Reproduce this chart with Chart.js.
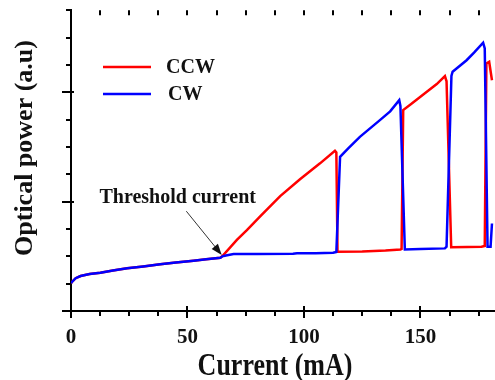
<!DOCTYPE html>
<html>
<head>
<meta charset="utf-8">
<script src="https://cdn.jsdelivr.net/npm/chart.js@4"></script>
<style>
	html, body { margin: 0; padding: 0; background: #fff; }
	#wrap { width: 495px; height: 380px; }
</style>
</head>
<body>
<div id="wrap"><canvas id="powerChart"></canvas></div>
<script>
	// Below threshold both directions share the same curve.
	var commonCurrent = [0, 0.5, 2, 4.1, 8, 12.6, 18, 24.1, 31, 38.3, 45, 52.6, 58, 64.1];
	var commonPower = [1.02, 1.07, 1.2, 1.28, 1.35, 1.40, 1.48, 1.56, 1.63, 1.71, 1.77, 1.84, 1.89, 1.95];

	// Counter-clockwise (red) above threshold.
	var ccwCurrent = [65.0, 71.2, 75.5, 81.3, 89.8, 98.3, 106.9, 113.3, 113.9, 114.4, 125, 135, 141.4, 141.9, 142.6, 146, 152.6, 157, 160.5, 161.2, 163.2, 170, 176.2, 177.6, 178.3, 179.5, 180.7];
	var ccwPower = [2.01, 2.60, 2.96, 3.47, 4.20, 4.82, 5.40, 5.86, 5.80, 2.17, 2.18, 2.21, 2.25, 2.27, 7.35, 7.57, 8.01, 8.30, 8.59, 8.40, 2.33, 2.34, 2.35, 2.38, 9.05, 9.11, 8.44];

	// Clockwise (blue) above threshold.
	var cwCurrent = [65.0, 66.5, 69.8, 80, 95.3, 97, 105, 112.5, 113.9, 115.5, 119, 124, 132.6, 137, 140.9, 141.4, 143.3, 150, 160.5, 161.2, 163.3, 163.8, 169.8, 173, 176.9, 177.6, 178.8, 180.1, 180.7];
	var cwPower = [2.00, 2.03, 2.08, 2.08, 2.09, 2.11, 2.11, 2.13, 2.16, 5.64, 5.95, 6.37, 6.98, 7.30, 7.71, 7.50, 2.25, 2.27, 2.29, 2.35, 8.60, 8.75, 9.17, 9.45, 9.81, 9.60, 2.35, 2.35, 3.20];

	var xMajor = [0, 50, 100, 150];

	var serif = "'Liberation Serif', 'Times New Roman', serif";

	function toPoints(xs, ys) {
		var out = [];
		for (var i = 0; i < xs.length; i++) {
			out.push({ x: xs[i], y: ys[i] });
		}
		return out;
	}

	// Ticks (major ones cross the axis), legend, arrow and axis titles.
	var decorPlugin = {
		id: 'decor',
		afterDraw: function(chart) {
			var ctx = chart.ctx;
			var area = chart.chartArea;
			var xs = chart.scales.x;
			var ys = chart.scales.y;
			ctx.save();
			ctx.strokeStyle = '#000';
			ctx.lineWidth = 2;

			xs.ticks.forEach(function(t) {
				var px = Math.round(xs.getPixelForValue(t.value));
				var major = xMajor.indexOf(t.value) >= 0;
				ctx.beginPath();
				ctx.moveTo(px, major ? area.bottom - 5 : area.bottom);
				ctx.lineTo(px, area.bottom + (major ? 7 : 5));
				ctx.stroke();
				ctx.beginPath();
				ctx.moveTo(px, area.top);
				ctx.lineTo(px, area.top + 5);
				ctx.stroke();
			});
			ys.ticks.forEach(function(t) {
				var py = Math.round(ys.getPixelForValue(t.value));
				var major = t.value % 4 === 0;
				ctx.beginPath();
				ctx.moveTo(area.left - (major ? 9 : 5), py);
				ctx.lineTo(area.left + (major ? 3 : 0), py);
				ctx.stroke();
			});

			// legend
			var ds = chart.data.datasets;
			var rows = [{ d: ds[1], y: 67, tx: 166 }, { d: ds[0], y: 94, tx: 168 }];
			ctx.font = 'bold 20px ' + serif;
			ctx.textBaseline = 'middle';
			ctx.textAlign = 'left';
			rows.forEach(function(r) {
				ctx.strokeStyle = r.d.borderColor;
				ctx.lineWidth = 2.5;
				ctx.beginPath();
				ctx.moveTo(103, r.y);
				ctx.lineTo(151, r.y);
				ctx.stroke();
				ctx.fillStyle = '#111';
				ctx.fillText(r.d.label, r.tx, r.y + 1);
			});

			// threshold annotation
			var ax0 = xs.getPixelForValue(49.5), ay0 = ys.getPixelForValue(3.65);
			var ax1 = xs.getPixelForValue(64.7), ay1 = ys.getPixelForValue(2.05);
			var ang = Math.atan2(ay1 - ay0, ax1 - ax0);
			ctx.strokeStyle = '#333';
			ctx.fillStyle = '#111';
			ctx.lineWidth = 1;
			ctx.beginPath();
			ctx.moveTo(ax0, ay0);
			ctx.lineTo(ax1 - 8 * Math.cos(ang), ay1 - 8 * Math.sin(ang));
			ctx.stroke();
			ctx.beginPath();
			ctx.moveTo(ax1, ay1);
			ctx.lineTo(ax1 - 11 * Math.cos(ang) + 4 * Math.sin(ang), ay1 - 11 * Math.sin(ang) - 4 * Math.cos(ang));
			ctx.lineTo(ax1 - 11 * Math.cos(ang) - 4 * Math.sin(ang), ay1 - 11 * Math.sin(ang) + 4 * Math.cos(ang));
			ctx.closePath();
			ctx.fill();

			ctx.textAlign = 'center';
			ctx.fillText('Threshold current', xs.getPixelForValue(45.8), ys.getPixelForValue(4.15));

			// axis titles (the source image is a little stretched vertically)
			ctx.font = 'bold 26px ' + serif;
			ctx.save();
			ctx.textBaseline = 'alphabetic';
			ctx.translate(275, 375);
			ctx.scale(1, 1.2);
			ctx.fillText('Current (mA)', 0, 0);
			ctx.restore();
			ctx.translate(25, 148);
			ctx.rotate(-Math.PI / 2);
			ctx.fillText('Optical power (a.u)', 0, 0);
			ctx.restore();
		}
	};

	var powerChart = new Chart(document.getElementById('powerChart'), {
		type: 'line',
		data: {
			datasets: [{
				label: 'CW',
				data: toPoints(commonCurrent.concat(cwCurrent), commonPower.concat(cwPower)),
				borderColor: '#0000ff',
				borderWidth: 2.5,
				pointRadius: 0,
				tension: 0,
				order: 0
			}, {
				label: 'CCW',
				data: toPoints(commonCurrent.concat(ccwCurrent), commonPower.concat(ccwPower)),
				borderColor: '#ff0000',
				borderWidth: 2.5,
				pointRadius: 0,
				tension: 0,
				order: 1
			}]
		},
		options: {
			responsive: true,
			maintainAspectRatio: false,
			animation: false,
			layout: { padding: { top: 10, right: 0, left: 0, bottom: 0 } },
			plugins: { legend: { display: false }, tooltip: { enabled: false } },
			scales: {
				x: {
					type: 'linear',
					min: 0,
					max: 182,
					grid: { display: false },
					border: { display: true, color: '#000', width: 2 },
					afterFit: function(scale) { scale.height = 69; },
					ticks: {
						stepSize: 12.5,
						includeBounds: false,
						autoSkip: false,
						maxRotation: 0,
						padding: 6,
						color: '#111',
						font: { family: serif, size: 21, weight: 'bold' },
						callback: function(v) { return xMajor.indexOf(v) >= 0 ? String(v) : ''; }
					}
				},
				y: {
					min: 0,
					max: 11,
					grid: { display: false },
					border: { display: true, color: '#000', width: 2 },
					afterFit: function(scale) { scale.width = 71; },
					ticks: {
						stepSize: 1,
						callback: function() { return ''; }
					}
				}
			}
		},
		plugins: [decorPlugin]
	});
</script>
</body>
</html>
